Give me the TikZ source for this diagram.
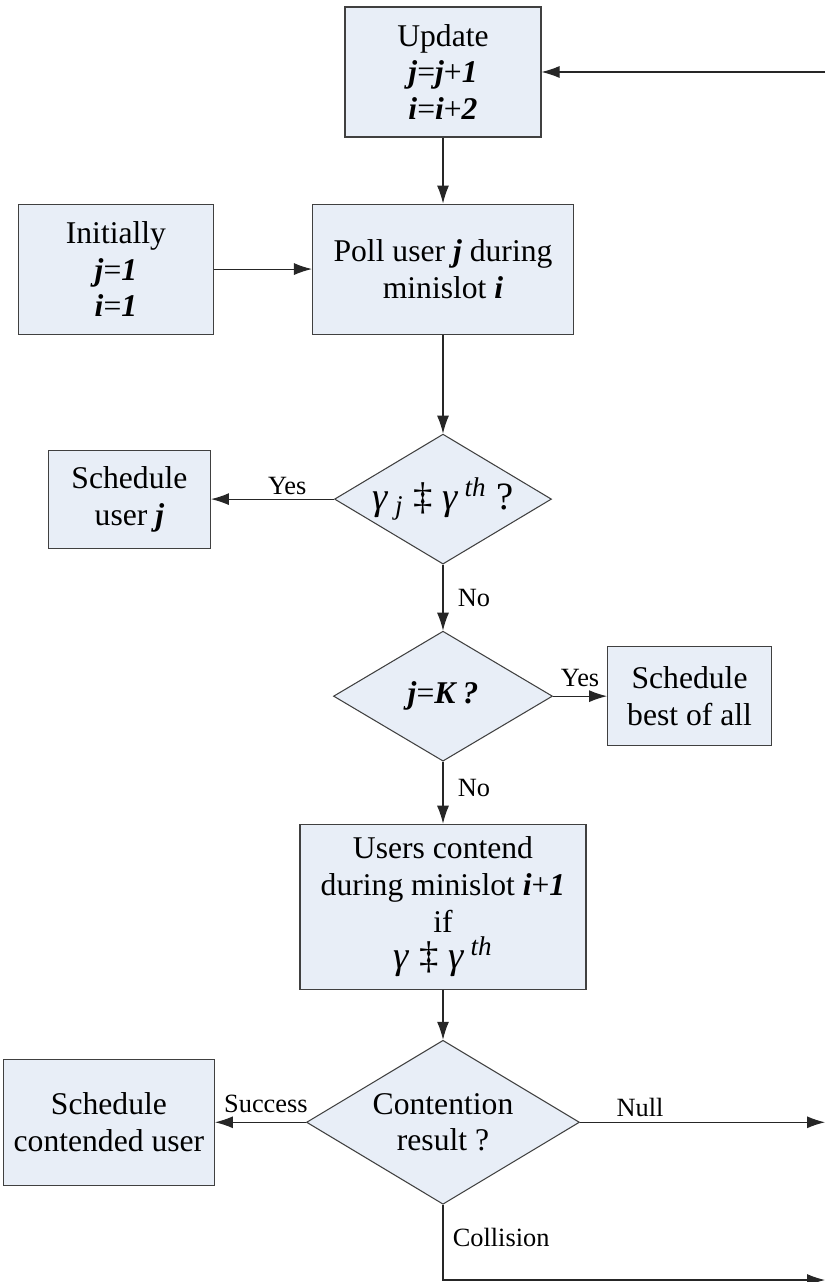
\documentclass[tikz,border=0pt]{standalone}
\usepackage{fontspec}
\setmainfont{Liberation Serif}
\usepackage{tikz}
\usetikzlibrary{arrows.meta,positioning,shapes.geometric}
\definecolor{BoxFill}{HTML}{E8EEF7}
\definecolor{Edge}{HTML}{404040}
\newcommand{\bvar}[1]{\textbf{\textit{#1}}}
\newcommand{\bigsym}{\fontsize{22}{21}\selectfont}

\begin{document}
\begin{tikzpicture}[
    process/.style={rectangle,draw=Edge,fill=BoxFill,line width=0.6pt,inner sep=0pt,align=center,font=\fontsize{18}{21}\selectfont},
    decision/.style={diamond,draw=Edge,fill=BoxFill,line width=0.6pt,inner sep=0pt,aspect=1.67,align=center,font=\fontsize{18}{21}\selectfont},
    flow/.style={-{Latex[length=3.6mm,width=2.4mm]},line width=0.6pt,draw=black!85},
    tag/.style={font=\fontsize{15}{18}\selectfont,inner sep=1pt}
]
\useasboundingbox (0,0) rectangle (16.5,-25.64);
\coordinate (edge) at (16.5,0);
\node[process,minimum width=3.92cm,minimum height=2.6cm] (upd) at (8.86,-1.44) {Update\\\bvar{j}=\bvar{j}+\bvar{1}\\\bvar{i}=\bvar{i}+\bvar{2}};
\node[process,below=1.32cm of upd,minimum width=5.22cm,minimum height=2.6cm] (poll) {Poll user \bvar{j} during\\minislot \bvar{i}};
\node[process,left=1.96cm of poll,minimum width=3.9cm,minimum height=2.6cm] (init) {Initially\\\bvar{j}=\bvar{1}\\\bvar{i}=\bvar{1}};
\node[decision,below=1.98cm of poll,minimum width=4.34cm,minimum height=2.6cm,font=\bigsym] (thr) {\textit{γ}\,\textsubscript{\textit{j}}~‡~\textit{γ}\,\textsuperscript{\textit{th}}~?};
\node[process,left=2.46cm of thr,minimum width=3.24cm,minimum height=1.96cm] (schj) {Schedule\\user \bvar{j}};
\node[decision,below=1.32cm of thr,minimum width=4.38cm,minimum height=2.6cm] (last) {\bvar{j}=\bvar{K}\,\bvar{?}};
\node[process,right=1.08cm of last,minimum width=3.28cm,minimum height=1.98cm] (best) {Schedule\\best of all};
\node[process,below=1.24cm of last,minimum width=5.72cm,minimum height=3.3cm] (cont) {Users contend\\during minislot \bvar{i}+\bvar{1}\\if\\{\bigsym\textit{γ}~‡~\textit{γ}\,\textsuperscript{\textit{th}}}};
\node[decision,below=1.0cm of cont,minimum width=5.46cm,minimum height=3.28cm] (res) {Contention\\result ?};
\node[process,left=1.82cm of res,minimum width=4.22cm,minimum height=2.52cm] (schc) {Schedule\\contended user};
\coordinate (nullend) at (res -| edge);
\coordinate (collend) at (16.5,-25.6);
% connectors
\draw[flow] (upd -| edge) -- (upd);
\draw[flow] (upd) -- (poll);
\draw[flow] (init) -- (poll);
\draw[flow] (poll) -- (thr);
\draw[flow] (thr) -- node[tag,above=1pt,pos=0.38] {Yes} (schj);
\draw[flow] (thr) -- node[tag,right=2.5mm,midway] {No} (last);
\draw[flow] (last) -- node[tag,above=4pt,midway] {Yes} (best);
\draw[flow] (last) -- node[tag,right=2.5mm,pos=0.42] {No} (cont);
\draw[flow] (cont) -- (res);
\draw[flow] (res) -- node[tag,above=4pt,pos=0.44] {Success} (schc);
\draw[flow] (res) -- node[tag,above=2pt,pos=0.245] {Null} (nullend);
\draw[flow] (res.south) |- node[tag,right=1.5mm,pos=0.215] {Collision} (collend);
\end{tikzpicture}
\end{document}
